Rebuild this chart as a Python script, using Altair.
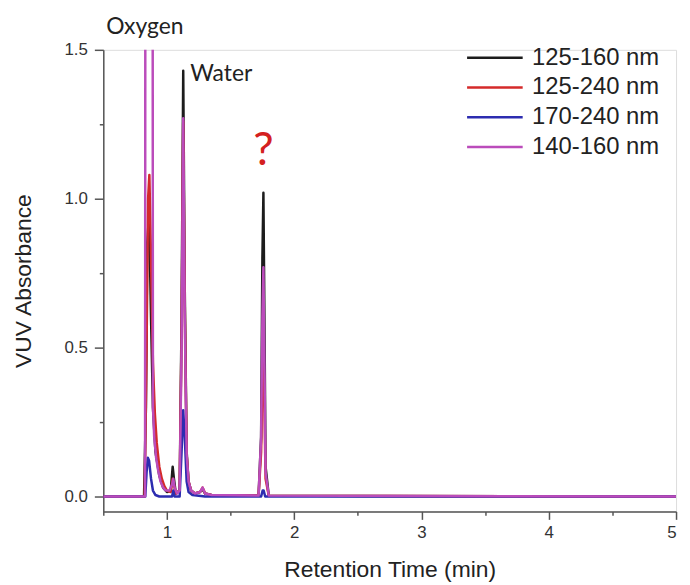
import altair as alt
import pandas as pd

# ---------------- data ----------------
series_names = ["125-160 nm", "125-240 nm", "170-240 nm", "140-160 nm"]
series_colors = ["#1c1c1c", "#d42a2a", "#2c2cb0", "#bb4cbb"]
series_widths = [2.5, 2.5, 3.0, 4.0]
series_opacity = [1.0, 1.0, 1.0, 0.85]

t_black = [0.5, 0.82, 0.835, 0.845, 0.86, 0.875, 0.89, 0.91, 0.94, 0.97, 1.0, 1.03, 1.045, 1.055,
           1.07, 1.1, 1.115, 1.128, 1.14, 1.155, 1.17, 1.19, 1.22, 1.26, 1.28, 1.3, 1.35, 1.72,
           1.74, 1.75, 1.758, 1.766, 1.775, 1.8, 2.5, 5.0]
v_black = [0.0, 0.0, 0.3, 0.85, 0.95, 0.6, 0.3, 0.15, 0.07, 0.03, 0.015, 0.02, 0.1, 0.06,
           0.01, 0.02, 0.6, 1.43, 0.7, 0.15, 0.05, 0.02, 0.01, 0.015, 0.025, 0.01, 0.005, 0.003,
           0.2, 0.8, 1.02, 0.6, 0.1, 0.003, 0.002, 0.0]

t_red = [0.5, 0.825, 0.84, 0.852, 0.862, 0.875, 0.89, 0.905, 0.92, 0.94, 0.96, 0.98, 1.0, 1.03,
         1.045, 1.055, 1.07, 1.1, 1.115, 1.128, 1.14, 1.155, 1.17, 1.19, 1.22, 1.26, 1.28, 1.3,
         1.35, 1.72, 1.74, 1.75, 1.758, 1.766, 1.775, 1.8, 5.0]
v_red = [0.0, 0.0, 0.5, 1.0, 1.08, 0.8, 0.45, 0.28, 0.18, 0.1, 0.06, 0.035, 0.02, 0.015,
         0.06, 0.04, 0.01, 0.02, 0.55, 1.26, 0.65, 0.14, 0.05, 0.02, 0.01, 0.015, 0.03, 0.01,
         0.005, 0.003, 0.15, 0.4, 0.5, 0.3, 0.06, 0.003, 0.0]

t_blue = [0.5, 0.83, 0.84, 0.85, 0.86, 0.875, 0.89, 0.91, 0.94, 1.0, 1.04, 1.05, 1.06, 1.1,
          1.115, 1.128, 1.14, 1.155, 1.17, 1.2, 1.3, 1.74, 1.752, 1.76, 1.772, 1.8, 5.0]
v_blue = [0.0, 0.0, 0.08, 0.13, 0.12, 0.06, 0.02, 0.005, 0.0, 0.0, 0.0, 0.02, 0.0, 0.0,
          0.15, 0.29, 0.2, 0.05, 0.015, 0.005, 0.0, 0.0, 0.02, 0.02, 0.0, 0.0, 0.0]

t_magenta = [0.5, 0.828, 0.832, 0.886, 0.89, 0.9, 0.915, 0.93, 0.95, 0.97, 0.99, 1.02, 1.04,
             1.05, 1.06, 1.08, 1.1, 1.115, 1.128, 1.14, 1.155, 1.17, 1.19, 1.22, 1.26, 1.28,
             1.3, 1.35, 1.72, 1.74, 1.75, 1.758, 1.766, 1.775, 1.8, 5.0]
v_magenta = [0.0, 0.0, 3.0, 3.0, 0.3, 0.2, 0.13, 0.09, 0.05, 0.03, 0.02, 0.02, 0.04,
             0.06, 0.03, 0.01, 0.02, 0.5, 1.27, 0.6, 0.14, 0.05, 0.02, 0.01, 0.015, 0.03,
             0.01, 0.005, 0.003, 0.2, 0.6, 0.77, 0.45, 0.08, 0.003, 0.0]

x_major = [1, 2, 3, 4, 5]
x_minor = [0.5, 1.5, 2.5, 3.5, 4.5]
y_major = [0.0, 0.5, 1.0, 1.5]
y_minor = [0.25, 0.75, 1.25]

note_labels = ["Oxygen", "Water"]
note_t = [0.826, 1.183]
note_v = [1.577, 1.417]
q_label = ["?"]
q_t = [1.758]
q_v = [1.16]

# ---------------- tables ----------------
rows = []
for name, ts, vs in zip(series_names,
                        [t_black, t_red, t_blue, t_magenta],
                        [v_black, v_red, v_blue, v_magenta]):
    for t, v in zip(ts, vs):
        rows.append({"series": name, "t": t, "v": v})
df = pd.DataFrame(rows)
notes = pd.DataFrame({"label": note_labels, "t": note_t, "v": note_v})
qdf = pd.DataFrame({"label": q_label, "t": q_t, "v": q_v})

xscale = alt.Scale(domain=[0.5, 5.0], nice=False, zero=False)
yscale = alt.Scale(domain=[-0.05, 1.5], nice=False, zero=False)

axis_common = dict(domainColor="#555555", tickColor="#555555", labelColor="#333333",
                   labelFont="Liberation Sans", titleFont="Liberation Sans",
                   titleColor="#222222", titleFontWeight="normal", grid=False,
                   domainWidth=1.5, tickWidth=1.5)

x_axis = alt.Axis(values=x_major, format="d", tickSize=8, labelPadding=5, labelFontSize=17,
                  title="Retention Time (min)", titleFontSize=23, titlePadding=19, **axis_common)
y_axis = alt.Axis(values=y_major, format=".1f", tickSize=9, labelPadding=7, labelFontSize=17,
                  title="VUV Absorbance", titleFontSize=23, titlePadding=29, **axis_common)

lines = alt.Chart(df).mark_line(clip=True, strokeJoin="round").encode(
    x=alt.X("t:Q", scale=xscale, axis=x_axis),
    y=alt.Y("v:Q", scale=yscale, axis=y_axis),
    color=alt.Color("series:N",
                    scale=alt.Scale(domain=series_names, range=series_colors),
                    sort=series_names,
                    legend=alt.Legend(orient="none", legendX=365, legendY=-4,
                                      symbolType="stroke", symbolSize=3136,
                                      symbolStrokeWidth=2.5, labelFontSize=24,
                                      labelFont="Liberation Sans", labelColor="#222222",
                                      labelOffset=8, clipHeight=24, rowPadding=6,
                                      padding=0, title=None)),
    strokeWidth=alt.StrokeWidth("series:N",
                                scale=alt.Scale(domain=series_names, range=series_widths),
                                legend=None),
    opacity=alt.Opacity("series:N",
                        scale=alt.Scale(domain=series_names, range=series_opacity),
                        legend=None),
)

text_notes = alt.Chart(notes).mark_text(font="Lato", fontSize=23, color="#222222",
                                        align="left", baseline="middle").encode(
    x=alt.X("t:Q", scale=xscale, axis=None),
    y=alt.Y("v:Q", scale=yscale, axis=None),
    text="label:N",
)
oxy = text_notes.transform_filter(alt.datum.label == "Oxygen").mark_text(
    font="Lato", fontSize=23, color="#222222", align="center", baseline="middle")
wat = text_notes.transform_filter(alt.datum.label == "Water")

qmark = alt.Chart(qdf).mark_text(font="Lato", fontSize=46, color="#d42020",
                                 align="center", baseline="middle").encode(
    x=alt.X("t:Q", scale=xscale, axis=None),
    y=alt.Y("v:Q", scale=yscale, axis=None),
    text="label:N",
)

minor = alt.Chart(qdf).mark_point(opacity=0).encode(
    x=alt.X("t:Q", scale=xscale,
            axis=alt.Axis(values=x_minor, labels=False, domain=False, tickSize=4,
                          tickColor="#555555", tickWidth=1.5, title=None, grid=False,
                          orient="bottom")),
    y=alt.Y("v:Q", scale=yscale,
            axis=alt.Axis(values=y_minor, labels=False, domain=False, tickSize=4,
                          tickColor="#555555", tickWidth=1.5, title=None, grid=False,
                          orient="left")),
)

chart = alt.layer(lines, minor, oxy, wat, qmark).resolve_axis(
    x="independent", y="independent"
).properties(
    width=577, height=465,
    autosize=alt.AutoSizeParams(type="none"),
    padding={"left": 96, "top": 40, "right": 6, "bottom": 72},
).configure_view(stroke=None).configure(background="white")

chart.save("out.html", embed_options={"renderer": "svg", "actions": False})
